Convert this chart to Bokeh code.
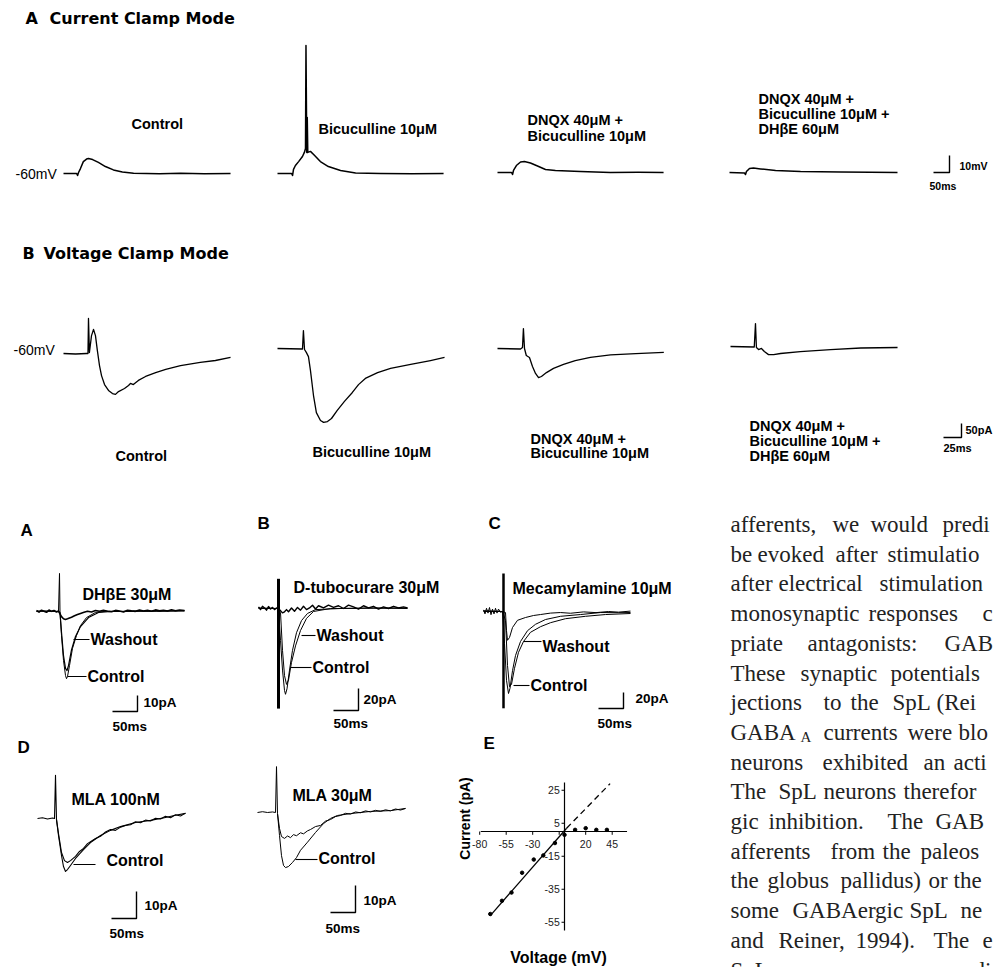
import math
from bokeh.plotting import figure
from bokeh.models import Range1d
from bokeh.embed import file_html
from bokeh.resources import INLINE
from bokeh.core.properties import value

# ======================= DATA =======================
# --- A: current clamp (time ms, potential change in mV from -60 mV)
cc_ctrl_t = [0, 41, 44, 47, 53, 62, 72, 78, 91, 109, 131, 156, 184, 219, 300, 366, 440, 522]
cc_ctrl_mv = [0, 0, -1.2, 0.6, 2.9, 7.0, 8.5, 8.8, 8.2, 6.5, 4.1, 2.1, 0.9, 0.1, -0.1, 0.1, -0.1, 0]
cc_bic_t = [0, 44, 47, 50, 56, 66, 78, 84, 87.5, 89, 91.5, 93, 94.7, 103, 116, 134, 159, 197, 244, 322, 420, 519]
cc_bic_mv = [0, 0, -1.2, 2.4, 4.7, 7.0, 10.0, 12.4, 14.7, 75.3, 12.4, 33, 12.4, 13, 10.6, 7.0, 4.1, 1.8, 0.3, 0, -0.1, 0]
cc_dnqx_t = [0, 44, 47, 50, 59, 72, 84, 103, 125, 150, 181, 259, 353, 440, 519]
cc_dnqx_mv = [0, 0, -1.2, 1.2, 4.1, 6.2, 6.5, 5.6, 3.8, 1.8, 1.2, 0.6, 0, 0.1, 0]
cc_dhbe_t = [0, 47, 50, 53, 62.5, 75, 97, 144, 222, 347, 440, 525]
cc_dhbe_mv = [0, -0.3, -1.2, 0.6, 2.4, 2.6, 2.1, 1.2, 0.6, 0.3, 0.1, 0]

# --- B: voltage clamp (time ms, current pA)
vc_ctrl_t = [0, 16.7, 32, 34, 34.7, 36, 38.9, 41.7, 44.4, 47, 50, 52.8, 57, 62.5, 68, 72.2, 76.4, 84.7, 90.3, 93, 97, 104, 114, 128, 142, 162.5, 190, 211, 232]
vc_ctrl_pa = [0, -1.8, 0, 0, 125, 3.6, 64, 86, 64, 11, -43, -79, -111, -132, -143, -146, -136, -125, -114, -107, -111, -96, -82, -68, -57, -43, -32, -25, -14]
vc_bic_t = [0, 34.7, 36, 37.5, 40, 43, 45.8, 50, 54, 59.7, 64, 69.4, 75, 83, 93, 104, 112.5, 122, 139, 157, 185, 212.5, 232]
vc_bic_pa = [0, -1.8, 64, -3.6, -14, -29, -79, -168, -229, -257, -264, -261, -250, -221, -189, -157, -129, -107, -86, -71, -57, -43, -32]
vc_dnqx_t = [0, 32, 34.7, 36, 37.5, 40, 44.4, 48.6, 52.8, 57, 61, 68, 77.8, 91.7, 108, 129, 157, 192, 231]
vc_dnqx_pa = [0, -1.8, 3.6, 71, 0, -25, -32, -64, -89, -104, -100, -86, -71, -57, -43, -32, -23, -18, -14]
vc_dhbe_t = [0, 33, 34.7, 36, 39, 43, 47, 52.8, 60, 69.4, 97, 139, 181, 232]
vc_dhbe_pa = [0, -1.8, 82, -3.6, -11, -7, -18, -29, -29, -25, -18, -11, -5.4, -3.6]

# --- lower A: DHbE 30uM
la_ctrl_t = [0, 20, 44, 46, 47, 50, 54, 58, 60, 62, 66, 72, 80, 88, 100, 118, 140, 168, 200, 240, 296]
la_ctrl_pa = [0, 0.3, 0, 23.8, -0.6, -15, -30.6, -40, -42, -40.6, -33.8, -23, -15, -8.8, -3.8, -0.6, 0.2, 0, 0.3, 0.2, 0.5]
la_wash_t = [0, 44, 47, 50, 54, 58, 61, 64, 70, 78, 88, 104, 124, 150, 296]
la_wash_pa = [0.3, 0, -0.6, -13, -27.5, -35.6, -36.9, -33.8, -24, -15.6, -9.4, -3.8, -0.6, 0, 0.4]
la_drug_t = [0, 5, 10, 15, 20, 25, 30, 35, 40, 44, 47, 50, 54, 58, 62, 66, 70, 76, 82, 88, 95, 102, 110, 118, 126,
             134, 142, 150, 158, 166, 174, 182, 190, 198, 206, 214, 222, 230, 238, 246, 254, 262, 270, 278, 286, 296]
la_drug_pa = [0.6, -0.4, 0.8, 0.2, -0.5, 0.9, 0.1, 0.6, -0.3, 0.3, -1.5, -3.2, -4.5, -5, -4.6, -4.1, -3.6, -2.7, -1.9, -1.2, -0.5, 0.2, -0.3, 0.6, 0.1,
              0.8, 0.2, -0.2, 0.7, 0.3, -0.3, 0.8, 0.4, 0.1, 0.9, 0.3, 0.7, 0.2, 1.0, 0.4, 0.8, 0.3, 1.1, 0.5, 0.9, 0.6]

# --- lower B: D-tubocurare 30uM
lb_art_t = [40, 40]
lb_art_pa = [27, -91]
lb_ctrl_t = [0, 38, 40, 44, 48, 52, 54, 57, 62, 68, 76, 86, 98, 114, 164, 230, 298]
lb_ctrl_pa = [0, 0, -2, -29, -56, -74.5, -78, -73, -56, -38, -22, -11, -4.5, -1, 0, 0.5, 0]
lb_wash_t = [0, 38, 44, 48, 52, 56, 60, 66, 74, 84, 96, 110, 144, 298]
lb_wash_pa = [0.5, 0, -3.6, -38, -61, -69, -65, -49, -34, -20, -9, -2.7, 0, 0.5]
lb_drug_t = [0, 4, 8, 12, 16, 20, 24, 28, 32, 36, 40, 44, 48, 52, 56, 60, 66, 72, 78, 84, 90, 96, 102, 108, 114, 120,
             130, 140, 150, 160, 170, 180, 190, 200, 210, 220, 230, 240, 250, 260, 270, 280, 290, 298]
lb_drug_pa = [1.5, -1.0, 2.0, 0.5, -1.5, 1.8, -0.5, 1.0, -1.0, 0.5, 0.0, -2.0, -4.0, -3.0, -1.0, -3.0, 0.5, -2.5, 1.0, -1.5, 2.0, -1.0, 0.5, 3.0, -0.5, 2.5,
              0.5, 3.0, 1.0, 2.5, 0.0, 3.0, 1.5, -0.5, 2.5, 0.5, 2.0, -0.5, 1.5, 0.0, 2.0, 0.5, 1.5, 0.5]

# --- lower C: Mecamylamine 10uM
lc_art_t = [40, 40]
lc_art_pa = [47.5, -121]
lc_ctrl_t = [0, 38, 42, 46, 50, 53, 58, 64, 74, 88, 104, 124, 154, 194, 234, 270, 294]
lc_ctrl_pa = [0, 0, -40, -86, -102.5, -96, -74, -55, -37.5, -24, -16, -10, -6, -3.8, -1.3, -1.5, -1.3]
lc_wash_t = [0, 38, 44, 48, 52, 56, 62, 70, 80, 94, 114, 134, 164, 204, 244, 294]
lc_wash_pa = [1, 0, -11, -67.5, -94, -91, -71, -51, -37.5, -26, -19, -14, -9, -6, -3.8, -2.5]
lc_drug_t = [0, 3, 6, 9, 12, 15, 18, 21, 24, 27, 30, 34, 38, 44, 46, 48, 52, 58, 68, 84, 100, 114, 134, 154, 174, 200, 225, 250, 270, 294]
lc_drug_pa = [2, -3, 4, -2, 5, -4, 3, -3, 4, -2, 3, -1, 0, -1.3, -24, -36, -32.5, -20, -11, -7.5, -5, -3.8, -2, -1.3, -2.2, -0.5, -1.4, 0, -0.8, 0.5]

# --- D: MLA 100nM
d1_ctrl_t = [0, 10, 20, 30, 34, 36, 38, 42, 48, 52, 56, 60, 66, 76, 92, 106, 126, 146, 166, 196, 226, 256, 276, 296]
d1_ctrl_pa = [0, 0.3, -0.2, 0.2, 0, 16, -0.4, -6.3, -13.7, -17.8, -19.6, -18.9, -17.4, -14.8, -11.5, -8.9, -6.3, -4.4, -3, -1.5, -0.7, 0.4, 1.2, 1.9]
d1_mla_t = [38, 42, 48, 54, 60, 66, 76, 84, 92, 100, 106, 116, 126, 136, 146, 156, 166, 176, 186, 196, 206, 216, 226, 236, 246, 256, 266, 276, 286, 296]
d1_mla_pa = [-0.4, -5.6, -12.6, -15.6, -16.3, -15.6, -14.0, -12.2, -11.1, -9.3, -8.6, -7.4, -6.6, -5.0, -4.1, -4.4, -3.2, -2.6, -2.3, -1.2, -1.6, -0.6, -0.9, 0.1, -0.2, 0.8, 0.3, 1.4, 0.9, 2.0]

# --- D: MLA 30uM
d2_ctrl_t = [0, 10, 20, 30, 36, 38, 40, 44, 48, 52, 56, 62, 70, 78, 86, 100, 116, 132, 146, 160, 186, 226, 266, 296]
d2_ctrl_pa = [0, 0.3, 0, 0.2, 0, 17, -0.4, -8.5, -16, -19.6, -20.4, -20, -18.5, -16.7, -14, -11, -7.4, -4.1, -2.2, -1.1, -0.4, 0.4, 0.7, 1.5]
d2_mla_t = [40, 44, 48, 54, 60, 66, 72, 78, 86, 92, 100, 106, 116, 126, 136, 146, 156, 166, 176, 186, 196, 206, 216, 226, 236, 246, 256, 266, 276, 286, 296]
d2_mla_pa = [-0.4, -5.9, -8.9, -9.6, -8.7, -9.3, -8.2, -8.6, -7.5, -7.9, -6.8, -6.3, -5.2, -4.8, -3.2, -2.6, -1.5, -1.1, -0.3, -0.6, 0.2, -0.1, 0.6, 0.2, 0.8, 0.4, 1.0, 0.6, 1.3, 0.9, 1.5]

# --- E: I-V relation
e_v = [-70, -59, -50, -40, -29, -20, -9, 0, 10, 20, 30, 40]
e_i = [-50, -42, -37, -25, -17, -14.5, -7, -2, 1, 2, 1, 1]
fit_v = [-70, 2]
fit_i = [-51, 2]
ext_v = [2, 43]
ext_i = [2, 29]
e_xticks = [-80, -55, -30, -5, 20, 45]
e_xtick_labels = ["-80", "-55", "-30", "", "20", "45"]
e_yticks = [25, 5, -15, -35, -55]
e_ytick_labels = ["25", "5", "-15", "-35", "-55"]

# --- scale bars: panel, time length, value length
scale_bars = [("cc4", 50, 10), ("vc4", 25, 50), ("la", 50, 10), ("lb", 50, 20),
              ("lc", 50, 20), ("d1", 50, 10), ("d2", 50, 10)]

# ======================= LAYOUT =======================
# page-pixel placement of each panel: origin x, origin y, px per x unit, px per y unit
PANELS = {
    "cc1": (63, 173, 0.32, 1.7), "cc2": (277, 173, 0.32, 1.7),
    "cc3": (497, 172, 0.32, 1.7), "cc4": (729, 172, 0.32, 1.7),
    "vc1": (63, 353, 0.72, 0.28), "vc2": (277, 348, 0.72, 0.28),
    "vc3": (497, 348, 0.72, 0.28), "vc4": (730, 346, 0.72, 0.28),
    "la": (36, 611, 0.5, 1.6), "lb": (258, 608, 0.5, 1.1), "lc": (483, 611, 0.5, 0.8),
    "d1": (37, 818, 0.5, 2.7), "d2": (257, 812, 0.5, 2.7),
    "e": (564, 831, 1.06, 1.65),
}
# scale bar corner positions (page px)
SB_CORNER = {"cc4": (949, 172), "vc4": (961, 437), "la": (137, 711), "lb": (358, 710),
             "lc": (623, 708), "d1": (136, 918), "d2": (355, 912)}

W, H = 994, 967
p = figure(width=W, height=H, x_range=Range1d(0, W), y_range=Range1d(H, 0),
           output_backend="svg", toolbar_location=None, min_border=0,
           x_axis_location=None, y_axis_location=None)
p.xgrid.visible = False
p.ygrid.visible = False
p.outline_line_color = None
p.background_fill_color = "white"
p.border_fill_color = "white"

for name, (x0, y0, sx, sy) in PANELS.items():
    p.extra_x_ranges[name] = Range1d(start=(0 - x0) / sx, end=(W - x0) / sx)
    p.extra_y_ranges[name] = Range1d(start=(y0 - H) / sy, end=(y0 - 0) / sy)


def trace(name, t, v, w=1.3, dash="solid", color="black"):
    p.line(t, v, x_range_name=name, y_range_name=name, line_color=color,
           line_width=w, line_dash=dash, line_join="round")


trace("cc1", cc_ctrl_t, cc_ctrl_mv, 1.5)
trace("cc2", cc_bic_t, cc_bic_mv, 1.5)
trace("cc3", cc_dnqx_t, cc_dnqx_mv, 1.5)
trace("cc4", cc_dhbe_t, cc_dhbe_mv, 1.5)
trace("vc1", vc_ctrl_t, vc_ctrl_pa, 1.3)
trace("vc2", vc_bic_t, vc_bic_pa, 1.3)
trace("vc3", vc_dnqx_t, vc_dnqx_pa, 1.3)
trace("vc4", vc_dhbe_t, vc_dhbe_pa, 1.3)

trace("la", la_drug_t, la_drug_pa, 1.6)
trace("la", la_wash_t, la_wash_pa, 1.2)
trace("la", la_ctrl_t, la_ctrl_pa, 1.0)
trace("lb", lb_drug_t, lb_drug_pa, 1.4)
trace("lb", lb_ctrl_t, lb_ctrl_pa, 1.0)
trace("lb", lb_wash_t, lb_wash_pa, 1.0)
trace("lb", lb_art_t, lb_art_pa, 3.0)
trace("lc", lc_drug_t, lc_drug_pa, 1.0)
trace("lc", lc_ctrl_t, lc_ctrl_pa, 1.0)
trace("lc", lc_wash_t, lc_wash_pa, 1.0)
trace("lc", lc_art_t, lc_art_pa, 2.5)
trace("d1", d1_ctrl_t, d1_ctrl_pa, 1.1)
trace("d1", d1_mla_t, d1_mla_pa, 1.1)
trace("d2", d2_ctrl_t, d2_ctrl_pa, 1.0)
trace("d2", d2_mla_t, d2_mla_pa, 1.0)

# scale bars
for name, lt, lv in scale_bars:
    x0, y0, sx, sy = PANELS[name]
    cx, cy = SB_CORNER[name]
    tc, vc = (cx - x0) / sx, (y0 - cy) / sy
    p.line([tc - lt, tc, tc], [vc, vc, vc + lv], x_range_name=name, y_range_name=name,
           line_color="black", line_width=1.4)

# ---- E panel: axes, points, fit
p.line([-79, 59], [0, 0], x_range_name="e", y_range_name="e", line_color="black", line_width=1.2)
p.line([0, 0], [-60, 29.7], x_range_name="e", y_range_name="e", line_color="black", line_width=1.2)
for xv in e_xticks:
    p.line([xv, xv], [0, -2], x_range_name="e", y_range_name="e", line_color="black", line_width=1)
for yv in e_yticks:
    p.line([-2.8, 0], [yv, yv], x_range_name="e", y_range_name="e", line_color="black", line_width=1)
p.line(fit_v, fit_i, x_range_name="e", y_range_name="e", line_color="black", line_width=1.3)
p.line(ext_v, ext_i, x_range_name="e", y_range_name="e", line_color="black", line_width=1.3, line_dash="6 4")
p.scatter(e_v, e_i, x_range_name="e", y_range_name="e", marker="circle", size=3.5, color="black")
p.text(x=e_xticks, y=[-7.3] * len(e_xticks), text=e_xtick_labels, x_range_name="e", y_range_name="e",
       text_font=value("Liberation Sans"), text_font_size=value("10.5px"), text_align="center",
       text_baseline="middle", text_color="#222")
p.text(x=[-4.5] * len(e_yticks), y=e_yticks, text=e_ytick_labels, x_range_name="e", y_range_name="e",
       text_font=value("Liberation Sans"), text_font_size=value("10.5px"), text_align="right",
       text_baseline="middle", text_color="#222")


# ---- text labels (page px)
def label(items, size, bold=True, font="Liberation Sans", align="left", baseline="middle", angle=0.0, color="black"):
    p.text(x=[i[1] for i in items], y=[i[2] for i in items], text=[i[0] for i in items],
           text_font=value(font), text_font_size=value(f"{size}px"),
           text_font_style="bold" if bold else "normal", text_align=align,
           text_baseline=baseline, angle=angle, text_color=color)


label([("A", 25, 18), ("Current Clamp Mode", 49, 18), ("B", 22, 253), ("Voltage Clamp Mode", 43, 253)],
      16, font="DejaVu Sans")
label([("-60mV", 15, 173), ("-60mV", 13, 349)], 14, bold=False)
label([("Control", 131, 123), ("Bicuculline 10\u03bcM", 318, 128),
       ("DNQX 40\u03bcM +", 527, 119), ("Bicuculline 10\u03bcM", 527, 135),
       ("DNQX 40\u03bcM +", 758, 98), ("Bicuculline 10\u03bcM +", 758, 113), ("DH\u03b2E 60\u03bcM", 758, 128),
       ("Control", 115, 455), ("Bicuculline 10\u03bcM", 312, 451),
       ("DNQX 40\u03bcM +", 530, 438), ("Bicuculline 10\u03bcM", 530, 452),
       ("DNQX 40\u03bcM +", 749, 425), ("Bicuculline 10\u03bcM +", 749, 440), ("DH\u03b2E 60\u03bcM", 749, 455)],
      14.5)
label([("10mV", 959, 165), ("50ms", 929, 185)], 10.5)
label([("50pA", 965, 429), ("25ms", 943, 447)], 11)
label([("10pA", 143, 702), ("50ms", 112, 726), ("20pA", 363, 699), ("50ms", 333, 723),
       ("20pA", 635, 698), ("50ms", 597, 723), ("10pA", 144, 905), ("50ms", 109, 933),
       ("10pA", 363, 900), ("50ms", 325, 928)], 13.5)
label([("DH\u03b2E 30\u03bcM", 82, 594), ("Washout", 90, 639), ("Control", 87, 676),
       ("D-tubocurare 30\u03bcM", 293, 587), ("Washout", 316, 635), ("Control", 312, 667),
       ("Mecamylamine 10\u03bcM", 512, 588), ("Washout", 542, 646), ("Control", 530, 685),
       ("MLA 100nM", 71, 799), ("Control", 106, 860), ("MLA 30\u03bcM", 292, 795), ("Control", 318, 858)],
      16)
label([("A", 20, 530), ("B", 257, 523), ("C", 488, 523), ("D", 17, 747), ("E", 483, 743)], 17)
label([("Current (pA)", 464, 818)], 14, align="center", angle=math.pi / 2)
label([("Voltage (mV)", 558, 957)], 16, align="center")

# leader lines (page px)
p.multi_line(xs=[[73, 89], [67, 86], [301, 315], [290, 311], [523, 541], [513, 529], [73, 95], [295, 317]],
             ys=[[639, 639], [676, 676], [635, 635], [667, 667], [641, 641], [685, 685], [864, 864], [859, 859]],
             line_color="black", line_width=1.1)

# ---- body text at right (column cut by the page edge)
BODY = [
    [(730, "afferents,"), (832, "we"), (870, "would"), (942, "predi")],
    [(730, "be"), (757, "evoked"), (835, "after"), (887, "stimulatio")],
    [(730, "after"), (778, "electrical"), (879, "stimulation")],
    [(730, "monosynaptic"), (868, "responses"), (982, "c")],
    [(730, "priate"), (807, "antagonists:"), (944, "GAB")],
    [(730, "These"), (800, "synaptic"), (890, "potentials")],
    [(730, "jections"), (823, "to"), (850, "the"), (892, "SpL"), (936, "(Rei")],
    [(730, "GABA"), (823, "currents"), (907, "were"), (958, "blo")],
    [(730, "neurons"), (822, "exhibited"), (923, "an"), (953, "acti")],
    [(730, "The"), (778, "SpL"), (823, "neurons"), (903, "therefor")],
    [(730, "gic"), (768, "inhibition."), (887, "The"), (935, "GAB")],
    [(730, "afferents"), (830, "from"), (882, "the"), (920, "paleos")],
    [(730, "the"), (767, "globus"), (840, "pallidus)"), (928, "or"), (953, "the")],
    [(730, "some"), (792, "GABAergic"), (909, "SpL"), (960, "ne")],
    [(730, "and"), (778, "Reiner,"), (855, "1994)."), (933, "The"), (982, "e")],
    [(730, "SpL"), (775, "neurons"), (885, "were"), (945, "mediate")],
]
bx, by, bt = [], [], []
for i, line in enumerate(BODY):
    for x, w in line:
        bx.append(x)
        by.append(524 + 29.7 * i)
        bt.append(w)
p.text(x=bx, y=by, text=bt, text_font=value("Liberation Serif"), text_font_size=value("23px"),
       text_align="left", text_baseline="alphabetic", text_color="#222")
p.text(x=[800], y=[524 + 29.7 * 7 + 5], text=["A"], text_font=value("Liberation Serif"),
       text_font_size=value("15px"), text_align="left", text_baseline="alphabetic", text_color="#222")

open("out.html", "w").write(file_html(p, INLINE))
